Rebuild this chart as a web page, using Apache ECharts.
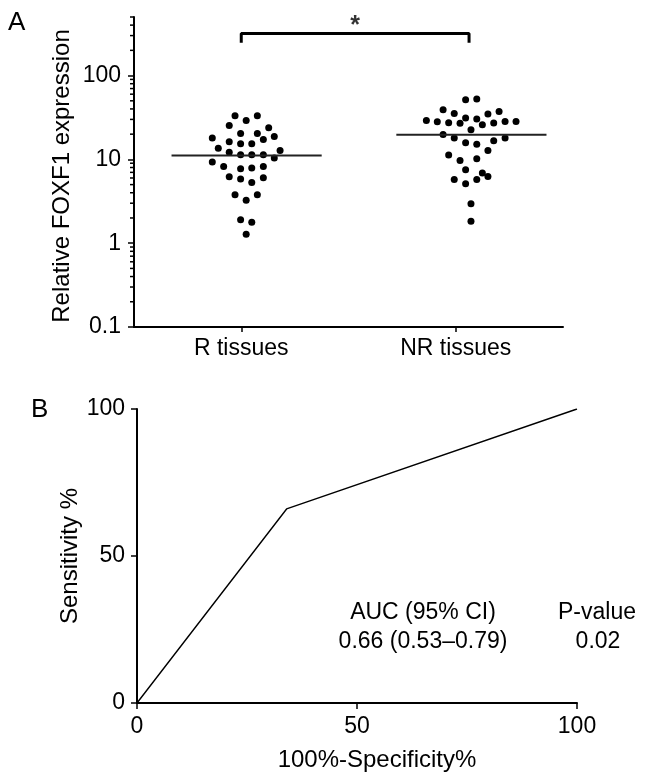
<!DOCTYPE html>
<html>
<head>
<meta charset="utf-8">
<script src="https://cdn.jsdelivr.net/npm/echarts@6/dist/echarts.min.js"></script>
<style>
html,body{margin:0;padding:0;background:#fff;}
#c{width:646px;height:781px;}
</style>
</head>
<body>
<div id="c"></div>
<script>
// ---- Panel A data ----
const groups = ['R tissues', 'NR tissues'];
const yTickValues = [0.1, 1, 10, 100];
const yMinorValues = [0.2,0.3,0.4,0.5,0.6,0.7,0.8,0.9,2,3,4,5,6,7,8,9,20,30,40,50,60,70,80,90,200,300,400,500];
const yMin = 0.1, yMax = 500;
const yNameA = 'Relative FOXF1 expression';
// x positions (group 1 centred near 0.5, group 2 near 1.5) and values
const rX =   [0.471,0.575,0.523,0.444,0.628,0.497,0.575,0.365,0.654,0.603,0.444,0.497,0.549,0.393,0.681,0.444,0.497,0.549,0.603,0.654,0.365,0.418,0.497,0.549,0.603,0.444,0.497,0.549,0.603,0.471,0.575,0.523,0.497,0.549,0.523];
const rVal = [33.2,33.2,29.2,25.4,23.9,20.4,20.4,18.0,18.8,17.3,16.2,15.4,15.4,13.6,12.8,12.2,11.35,11.35,11.35,10.4,9.29,8.23,7.72,7.87,8.23,6.2,5.82,5.30,6.03,3.78,3.78,3.26,1.90,1.78,1.28];
const nrX =   [1.546,1.598,1.441,1.493,1.650,1.702,1.363,1.414,1.467,1.520,1.546,1.598,1.624,1.677,1.730,1.781,1.571,1.441,1.493,1.730,1.546,1.598,1.677,1.650,1.467,1.520,1.598,1.546,1.624,1.650,1.493,1.546,1.598,1.571,1.571];
const nrVal = [51.5,52.5,39.1,35.3,34.8,37.4,29.2,28.1,27.4,26.9,31.1,30.3,25.9,27.1,28.4,28.4,22.6,19.8,18.0,18.0,15.8,15.2,16.7,12.8,11.25,9.70,10.2,7.51,6.86,6.25,5.75,5.11,5.75,2.95,1.83];
const medianCenters = [0.525, 1.573];
const medians = [11.1, 19.7];
const bracketX = [0.5, 1.562];
const bracketTop = 317;
const bracketFoot = 247;
const sigLabel = '*';

// ---- Panel B data ----
const rocX = [0, 34, 100];
const rocY = [0, 66, 100];
const xNameB = '100%-Specificity%';
const yNameB = 'Sensitivity %';
const aucHeader = 'AUC (95% CI)';
const aucValue = '0.66 (0.53\u20130.79)';
const pHeader = 'P-value';
const pValue = '0.02';

const FONT = '"Liberation Sans", Arial, Helvetica, sans-serif';
const FS = 23;
const NFS = 24;
const black = '#000';

const chart = echarts.init(document.getElementById('c'), null, {renderer: 'canvas'});

const axisLineStyle = {color: black, width: 2};
const labelStyle = {color: black, fontFamily: FONT, fontSize: FS};

const option = {
  backgroundColor: '#fff',
  animation: false,
  textStyle: {fontFamily: FONT},
  grid: [
    {left: 134, right: 83, top: 17, height: 310, outerBoundsMode: 'none', containLabel: false},
    {left: 137, right: 69, top: 409, height: 294, outerBoundsMode: 'none', containLabel: false}
  ],
  xAxis: [
    {
      gridIndex: 0, type: 'value', min: 0, max: 2,
      splitLine: {show: false},
      axisLine: {onZero: false, lineStyle: axisLineStyle},
      axisTick: {length: 5, lineStyle: {color: black, width: 1.5}, customValues: [0.5, 1.5]},
      axisLabel: Object.assign({margin: 10, customValues: [0.5, 1.5],
        formatter: v => groups[Math.round(v - 0.5)]}, labelStyle)
    },
    {
      gridIndex: 1, type: 'value', min: 0, max: 100, interval: 50,
      splitLine: {show: false},
      axisLine: {onZero: false, lineStyle: axisLineStyle},
      axisTick: {length: 6, lineStyle: {color: black, width: 1.5}},
      axisLabel: Object.assign({margin: 12}, labelStyle)
    }
  ],
  yAxis: [
    {
      gridIndex: 0, type: 'log', logBase: 10, min: yMin, max: yMax, position: 'left',
      splitLine: {show: false},
      axisLine: {onZero: false, lineStyle: axisLineStyle},
      axisTick: {length: 6, lineStyle: {color: black, width: 1.5}, customValues: yTickValues},
      axisLabel: Object.assign({margin: 13, customValues: yTickValues,
        formatter: v => String(+(+v).toPrecision(3))}, labelStyle)
    },
    {
      gridIndex: 1, type: 'value', min: 0, max: 100, interval: 50,
      splitLine: {show: false},
      axisLine: {onZero: false, lineStyle: axisLineStyle},
      axisTick: {length: 6, lineStyle: {color: black, width: 1.5}},
      axisLabel: Object.assign({margin: 12}, labelStyle)
    }
  ],
  series: [
    {
      // minor ticks of the log axis, positioned through the axis scale
      type: 'custom', xAxisIndex: 0, yAxisIndex: 0, clip: false, silent: true, z: 3,
      data: yMinorValues.map(v => [0, v]),
      renderItem: (params, api) => {
        const p = api.coord([api.value(0), api.value(1)]);
        return {type: 'line', shape: {x1: p[0] - 4, y1: p[1], x2: p[0], y2: p[1]},
          style: {stroke: black, lineWidth: 1.5}};
      }
    },
    {
      type: 'scatter', xAxisIndex: 0, yAxisIndex: 0, symbolSize: 7,
      itemStyle: {color: black, opacity: 1},
      data: rX.map((x, i) => [x, rVal[i]])
    },
    {
      type: 'scatter', xAxisIndex: 0, yAxisIndex: 0, symbolSize: 7,
      itemStyle: {color: black, opacity: 1},
      data: nrX.map((x, i) => [x, nrVal[i]])
    },
    ...medians.map((m, i) => ({
      type: 'line', xAxisIndex: 0, yAxisIndex: 0, symbol: 'none',
      lineStyle: {color: '#222', width: 2},
      data: [[medianCenters[i] - 0.35, m], [medianCenters[i] + 0.35, m]]
    })),
    {
      type: 'line', xAxisIndex: 0, yAxisIndex: 0, symbol: 'none',
      lineStyle: {color: black, width: 3}, z: 5,
      data: [[bracketX[0], bracketFoot], [bracketX[0], bracketTop], [bracketX[1], bracketTop], [bracketX[1], bracketFoot]]
    },
    {
      type: 'scatter', xAxisIndex: 0, yAxisIndex: 0, symbolSize: 0,
      label: {show: true, position: 'top', distance: -5, formatter: sigLabel, color: black, fontFamily: FONT, fontSize: 25, fontWeight: 'bold'},
      data: [[(bracketX[0] + bracketX[1]) / 2, bracketTop]]
    },
    {
      type: 'line', xAxisIndex: 1, yAxisIndex: 1, symbol: 'none',
      lineStyle: {color: black, width: 1.4},
      data: rocX.map((x, i) => [x, rocY[i]])
    }
  ],
  graphic: [
    {type: 'text', left: 8, top: 10, style: {text: 'A', font: '26px ' + FONT, fill: black}},
    {type: 'text', left: 31, top: 397, style: {text: 'B', font: '26px ' + FONT, fill: black}},
    {type: 'text', x: 62, y: 176, rotation: Math.PI / 2, style: {text: yNameA, font: NFS + 'px ' + FONT, fill: black, align: 'center', verticalAlign: 'middle'}},
    {type: 'text', x: 70, y: 556, rotation: Math.PI / 2, style: {text: yNameB, font: NFS + 'px ' + FONT, fill: black, align: 'center', verticalAlign: 'middle'}},
    {type: 'text', x: 377, y: 760, style: {text: xNameB, font: NFS + 'px ' + FONT, fill: black, align: 'center', verticalAlign: 'middle'}},
    {type: 'text', x: 423, y: 613, style: {text: aucHeader, font: FS + 'px ' + FONT, fill: black, align: 'center', verticalAlign: 'middle'}},
    {type: 'text', x: 423, y: 642, style: {text: aucValue, font: FS + 'px ' + FONT, fill: black, align: 'center', verticalAlign: 'middle'}},
    {type: 'text', x: 597, y: 613, style: {text: pHeader, font: FS + 'px ' + FONT, fill: black, align: 'center', verticalAlign: 'middle'}},
    {type: 'text', x: 598, y: 642, style: {text: pValue, font: FS + 'px ' + FONT, fill: black, align: 'center', verticalAlign: 'middle'}}
  ]
};
chart.setOption(option);
</script>
</body>
</html>
